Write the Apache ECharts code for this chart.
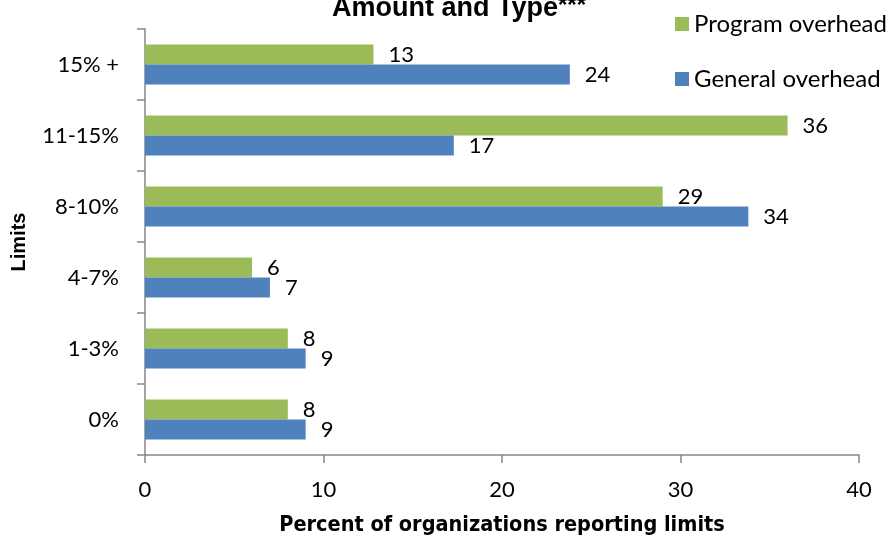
<!DOCTYPE html>
<html><head><meta charset="utf-8">
<script src="https://cdn.jsdelivr.net/npm/echarts@6/dist/echarts.min.js"></script>
<style>html,body{margin:0;padding:0;background:#fff}#c{width:895px;height:535px}</style>
</head><body><div id="c"></div>
<script>
var categories = ['0%', '1-3%', '4-7%', '8-10%', '11-15%', '15% +'];
var programOverhead = [8, 8, 6, 29, 36, 12.8];
var generalOverhead = [9, 9, 7, 33.8, 17.3, 23.8];
var xTicks = [0, 10, 20, 30, 40];

var labelFont = 'Lato, "Open Sans", sans-serif';
var boldFont = '"Liberation Sans", Arial, sans-serif';
var narrowFont = '"Liberation Sans Narrow", "DejaVu Sans Condensed", sans-serif';
var chart = echarts.init(document.getElementById('c'));
var lbl = {
  show: true, position: 'right', distance: 15, color: '#000',
  fontFamily: labelFont, fontSize: 22, padding: [14, 0, 0, 0],
  formatter: function (p) { return Math.round(p.value); }
};
chart.setOption({
  animation: false,
  title: {
    text: '{a|Amount and Type}{b|***}',
    left: 327, top: -11,
    textStyle: {
      rich: {
        a: { fontFamily: boldFont, fontWeight: 'bold', fontSize: 27, color: '#000' },
        b: { fontFamily: boldFont, fontWeight: 'bold', fontSize: 24, color: '#000', verticalAlign: 'top', padding: [0, 0, 6, 0] }
      }
    }
  },
  legend: {
    data: ['Program overhead', 'General overhead'],
    orient: 'vertical', left: 670, top: 7,
    itemWidth: 14, itemHeight: 14, itemGap: 31,
    icon: 'rect',
    textStyle: { fontFamily: labelFont, fontSize: 24, color: '#000', lineHeight: 20 }
  },
  grid: { left: 145, right: 36, top: 29, bottom: 80, containLabel: false, outerBoundsMode: 'none' },
  xAxis: {
    type: 'value', min: xTicks[0], max: xTicks[xTicks.length - 1], interval: 10,
    name: 'Percent of organizations reporting limits',
    nameLocation: 'middle', nameGap: 59,
    nameTextStyle: { fontFamily: narrowFont, fontWeight: 'bold', fontSize: 21.5, color: '#000' },
    axisLine: { show: true, lineStyle: { color: '#868686', width: 1.5 } },
    axisTick: { show: true, length: 8, lineStyle: { color: '#868686', width: 1.5 } },
    axisLabel: { fontFamily: labelFont, fontSize: 22, color: '#000', margin: 24 },
    splitLine: { show: false }
  },
  yAxis: {
    type: 'category', data: categories,
    name: 'Limits', nameLocation: 'middle', nameGap: 116,
    nameTextStyle: { fontFamily: boldFont, fontWeight: 'bold', fontSize: 20, color: '#000' },
    axisLine: { show: true, lineStyle: { color: '#868686', width: 1.5 } },
    axisTick: { show: true, length: 8, alignWithLabel: false, lineStyle: { color: '#868686', width: 1.5 } },
    axisLabel: { fontFamily: labelFont, fontSize: 22, color: '#000', margin: 26 }
  },
  series: [
    { name: 'Program overhead', type: 'bar', data: programOverhead, barGap: '0%', barCategoryGap: '44%',
      itemStyle: { color: '#9BBB59' }, label: lbl },
    { name: 'General overhead', type: 'bar', data: generalOverhead, barGap: '0%', barCategoryGap: '44%',
      itemStyle: { color: '#4F81BD' }, label: lbl }
  ]
});
</script></body></html>
